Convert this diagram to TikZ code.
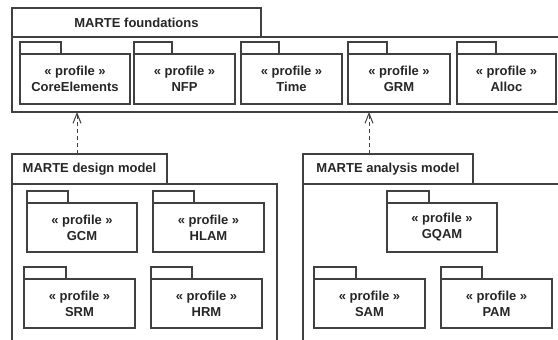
\documentclass[tikz,border=0pt]{standalone}
\usepackage{fontspec}
\setmainfont{Liberation Sans}
\usetikzlibrary{arrows.meta}
\begin{document}
\begin{tikzpicture}[x=1pt,y=-1pt,
  every node/.style={inner sep=0pt,outer sep=0pt,font=\fontsize{13}{16}\selectfont\bfseries,text=black!85},
  ln/.style={draw=black!75,line width=1.1pt},
  frametab/.style={ln,rectangle,anchor=north west},
  framebody/.style={ln,rectangle,anchor=north west},
  pkg/.style={ln,rectangle,align=center,minimum width=110pt,minimum height=50pt,anchor=north west},
  pkgtab/.style={ln,rectangle,minimum width=41pt,minimum height=12pt,anchor=south west},
  dep/.style={draw=black!75,line width=1pt,dashed,dash pattern=on 4pt off 3pt,-{Straight Barb[length=10pt,width=8pt,line width=1pt]}}]
\useasboundingbox (0,0) rectangle (558,340);
\fill[white] (0,0) rectangle (558,340);
\begin{scope}
\clip (0,0) rectangle (558,340);
% MARTE foundations
\node[frametab,minimum width=249pt,minimum height=29pt] (ftab) at (12,8) {MARTE foundations};
\node[framebody,minimum width=560pt,minimum height=75pt] (fbody) at (12,37) {};
\node[pkg] (core) at (20,54) {« profile »\\CoreElements};
\node[pkgtab] (coretab) at (core.north west) {};
\node[pkg,minimum width=101pt] (nfp) at (134,54) {« profile »\\NFP};
\node[pkgtab,minimum width=38pt] (nfptab) at (nfp.north west) {};
\node[pkg,minimum width=101pt] (time) at (241,54) {« profile »\\Time};
\node[pkgtab,minimum width=38pt] (timetab) at (time.north west) {};
\node[pkg,minimum width=102pt] (grm) at (348,54) {« profile »\\GRM};
\node[pkgtab,minimum width=39pt] (grmtab) at (grm.north west) {};
\node[pkg,minimum width=99pt] (alloc) at (457,54) {« profile »\\Alloc};
\node[pkgtab,minimum width=39pt] (alloctab) at (alloc.north west) {};
% MARTE design model
\node[frametab,minimum width=155pt,minimum height=30pt] (dtab) at (12,154) {MARTE design model};
\node[framebody,minimum width=265pt,minimum height=200pt] (dbody) at (12,184) {};
\node[pkg,minimum height=49pt] (gcm) at (27,203) {« profile »\\GCM};
\node[pkgtab] (gcmtab) at (gcm.north west) {};
\node[pkg,minimum height=49pt,minimum width=111pt] (hlam) at (153,203) {« profile »\\HLAM};
\node[pkgtab] (hlamtab) at (hlam.north west) {};
\node[pkg,minimum height=49pt,minimum width=111pt] (srm) at (24,279) {« profile »\\SRM};
\node[pkgtab,minimum width=42pt] (srmtab) at (srm.north west) {};
\node[pkg,minimum height=49pt,minimum width=111pt] (hrm) at (151,279) {« profile »\\HRM};
\node[pkgtab] (hrmtab) at (hrm.north west) {};
% MARTE analysis model
\node[frametab,minimum width=170pt,minimum height=30pt] (atab) at (303,154) {MARTE analysis model};
\node[framebody,minimum width=270pt,minimum height=200pt] (abody) at (303,184) {};
\node[pkg,minimum height=49pt] (gqam) at (387,203) {« profile »\\GQAM};
\node[pkgtab,minimum width=42pt] (gqamtab) at (gqam.north west) {};
\node[pkg,minimum height=49pt,minimum width=111pt] (sam) at (314,279) {« profile »\\SAM};
\node[pkgtab,minimum width=42pt] (samtab) at (sam.north west) {};
\node[pkg,minimum height=49pt,minimum width=111pt] (pam) at (441,279) {« profile »\\PAM};
\node[pkgtab] (pamtab) at (pam.north west) {};
% dependencies
\coordinate (d1) at (77,154);
\coordinate (a1) at (369,154);
\draw[dep] (d1) -- (d1 |- fbody.south);
\draw[dep] (a1) -- (a1 |- fbody.south);
\end{scope}
\end{tikzpicture}
\end{document}
